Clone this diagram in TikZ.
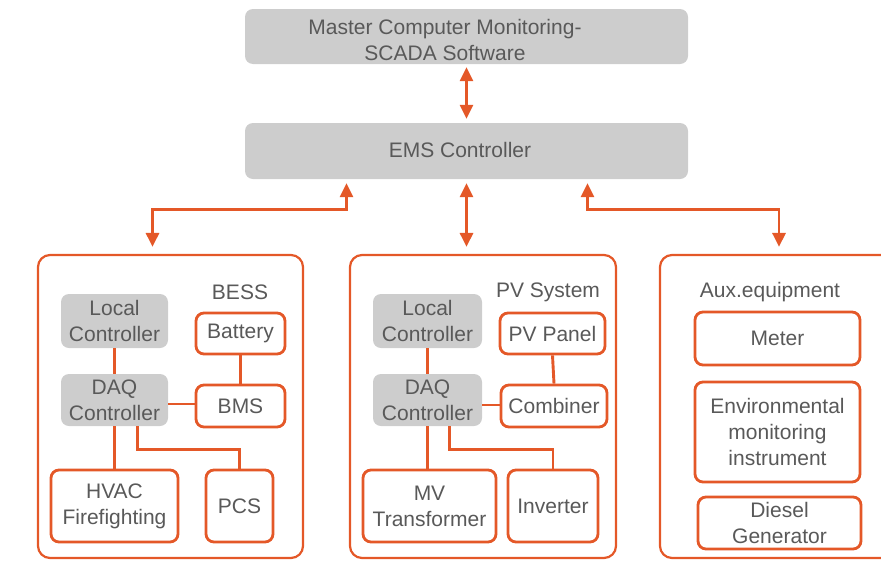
\documentclass[tikz,border=0pt]{standalone}
\usepackage{fontspec}
\setmainfont{Liberation Sans}
\usetikzlibrary{arrows.meta}
\definecolor{linkorange}{RGB}{228,88,40}
\definecolor{boxgray}{RGB}{205,205,205}
\definecolor{textgray}{RGB}{89,89,89}

\begin{document}
\begin{tikzpicture}[x=1pt, y=-1pt,
    every node/.style={font=\fontsize{21}{26}\selectfont, text=textgray, align=center, inner sep=0pt},
    boxsize/.style 2 args={minimum width=#1pt, minimum height=#2pt},
    graybox/.style={fill=boxgray, rounded corners=8pt},
    partbox/.style={draw=linkorange, line width=2.8pt, fill=white, rounded corners=8pt},
    groupbox/.style={draw=linkorange, line width=2.2pt, rounded corners=12pt},
    link/.style={draw=linkorange, line width=2.9pt},
    biarrow/.style={link, {Triangle[length=14pt,width=13pt]}-{Triangle[length=14pt,width=13pt]}}]
    \useasboundingbox (0,0) rectangle (881,560);
    \clip (0,0) rectangle (881,560);

    % top level: monitoring and EMS
    \node[graybox, boxsize={443}{55}] (master) at (466.5,36.5) {};
    \node (mastertext) at (445,40) {Master Computer Monitoring-\\SCADA Software};
    \node[graybox, boxsize={443}{56}] (ems) at (466.5,151) {};
    \node (emstext) at (460,150) {EMS Controller};

    % three groups (aux runs off the right edge)
    \node[groupbox, boxsize={265}{303}] (bess) at (170.5,406.5) {};
    \node[groupbox, boxsize={266}{303}] (pv) at (483,406.5) {};
    \node[groupbox, boxsize={240}{303}] (aux) at (780,406.5) {};
    \node (besslabel) at (240,292) {BESS};
    \node (pvlabel) at (548,292) {PV System};
    \node (auxlabel) at (770,292) {Aux.equipment};

    % BESS
    \node[graybox, boxsize={107}{54}] (blc) at (114.5,321) {Local\\Controller};
    \node[graybox, boxsize={107}{52}] (bdaq) at (114.5,400) {DAQ\\Controller};
    \node[partbox, boxsize={89}{41}] (bbat) at (240.5,333.5) {Battery};
    \node[partbox, boxsize={89}{42}] (bbms) at (240.5,406) {BMS};
    \node[partbox, boxsize={127}{72}] (bhvac) at (114.5,506) {HVAC\\Firefighting};
    \node[partbox, boxsize={67}{72}] (bpcs) at (239.5,506) {PCS};

    % PV system
    \node[graybox, boxsize={109}{54}] (plc) at (427.5,321) {Local\\Controller};
    \node[graybox, boxsize={109}{52}] (pdaq) at (427.5,400) {DAQ\\Controller};
    \node[partbox, boxsize={105}{41}] (ppanel) at (552.5,333.5) {PV Panel};
    \node[partbox, boxsize={106}{42}] (pcomb) at (554,406) {Combiner};
    \node[partbox, boxsize={133}{72}] (pmv) at (429.5,506) {MV\\Transformer};
    \node[partbox, boxsize={90}{72}] (pinv) at (553,506) {Inverter};

    % Aux equipment
    \node[partbox, boxsize={165}{53}] (meter) at (777.5,338.5) {Meter};
    \node[partbox, boxsize={165}{100}] (envmon) at (777.5,432) {Environmental\\monitoring\\instrument};
    \node[partbox, boxsize={163}{52}] (diesel) at (779.5,523) {Diesel\\Generator};

    % links between monitoring, EMS and groups
    \draw[biarrow] ([yshift=-3pt]master.south) -- ([yshift=4pt]ems.north);
    \draw[biarrow] ([yshift=-4pt]ems.south) -- ([yshift=7pt]ems.south |- pv.north);
    \draw[biarrow] ([xshift=-120pt,yshift=-4pt]ems.south) -- ++(0,-26pt)
        -| ([xshift=-18pt,yshift=7pt]bess.north);
    \draw[biarrow] ([xshift=121pt,yshift=-4pt]ems.south) -- ++(0,-26pt)
        -| ([xshift=-1pt,yshift=7pt]aux.north);

    % links inside the groups
    \foreach \a/\b in {blc/bdaq, bbat/bbms, plc/pdaq, ppanel/pcomb}
        \draw[link] (\a.south) -- (\b.north);
    \draw[link] ([yshift=-4pt]bdaq.east) -- ([yshift=-4pt]bdaq.east -| bbms.west);
    \draw[link] ([yshift=-5pt]pdaq.east) -- ([yshift=-5pt]pdaq.east -| pcomb.west);
    \draw[link] (bdaq.south) -- (bdaq.south |- bhvac.north);
    \draw[link] (pdaq.south) -- (pdaq.south |- pmv.north);
    \draw[link] ([xshift=23pt]bdaq.south) -- ++(0,-23pt) -| (bpcs.north);
    \draw[link] ([xshift=22pt]pdaq.south) -- ++(0,-23pt) -| (pinv.north);
\end{tikzpicture}
\end{document}
